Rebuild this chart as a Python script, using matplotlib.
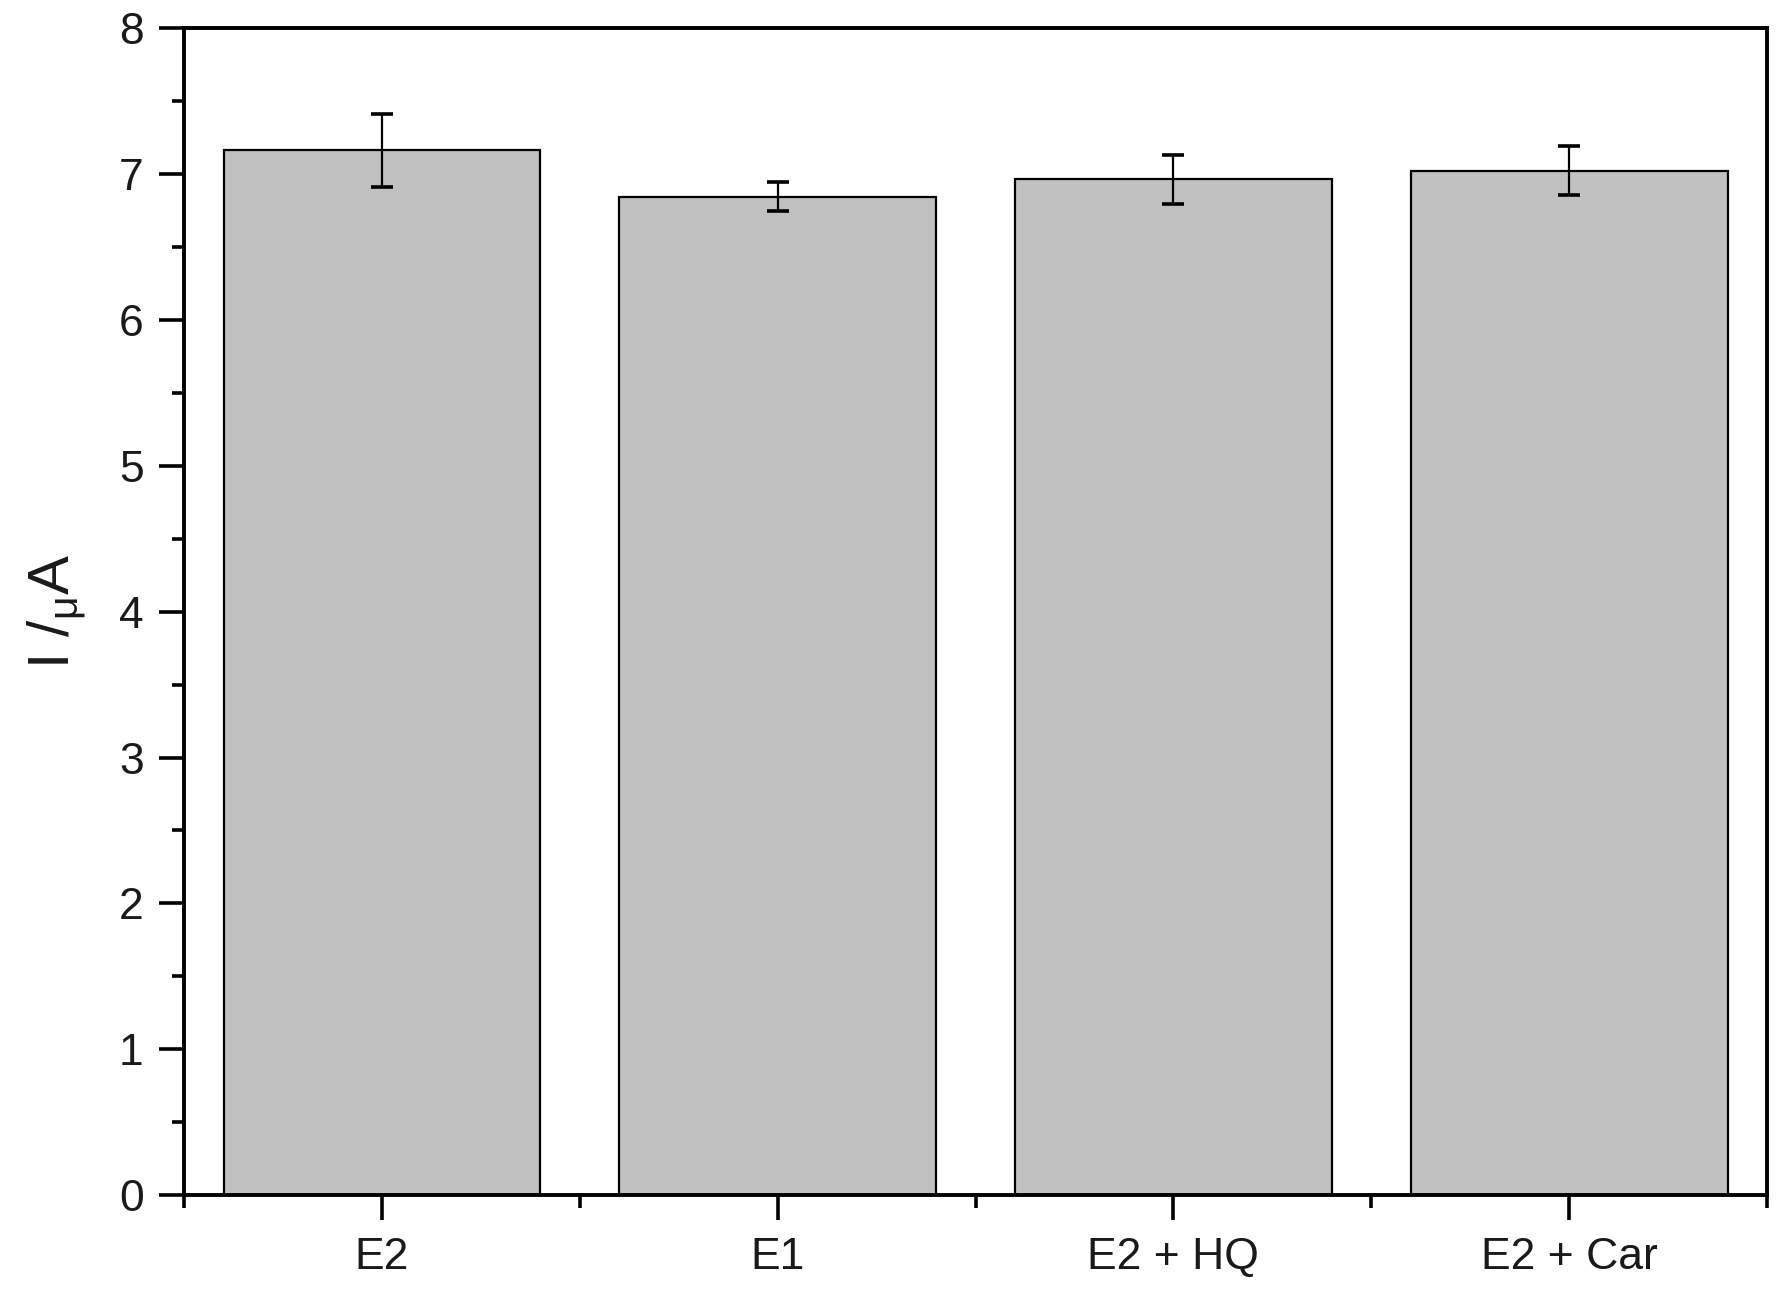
import matplotlib
matplotlib.use("Agg")
import matplotlib.pyplot as plt
import numpy as np

# bar heights and error bars
samples = ["E2", "E1", "E2 + HQ", "E2 + Car"]
current = [7.165, 6.845, 6.965, 7.025]
current_err = [0.25, 0.10, 0.17, 0.17]
y_ticks = [0, 1, 2, 3, 4, 5, 6, 7, 8]

plt.rcParams["font.family"] = ["Liberation Sans", "DejaVu Sans"]
plt.rcParams["mathtext.fontset"] = "custom"
plt.rcParams["mathtext.rm"] = "Liberation Sans"

fig = plt.figure(figsize=(17.79, 12.90), dpi=100)
ax = fig.add_axes([0.1034, 0.0736, 0.8899, 0.9044])

x = np.arange(len(samples))
ax.bar(x, current, width=0.8, color="#c0c0c0", edgecolor="black", linewidth=1.6, zorder=2)
ax.errorbar(x, current, yerr=current_err, fmt="none", ecolor="black",
            elinewidth=1.6, capsize=8, capthick=2.6, zorder=3)

ax.set_xlim(-0.5, 3.5)
ax.set_ylim(0, 8)
ax.set_xticks(x)
ax.set_xticklabels(samples)
ax.set_xticks(np.arange(-0.5, 3.6, 1.0), minor=True)
ax.set_yticks(y_ticks)
ax.set_yticks(np.arange(0.5, 8, 1.0), minor=True)

for s in ax.spines.values():
    s.set_linewidth(2.8)
ax.tick_params(which="major", direction="out", length=18, width=2.6,
               labelsize=32, labelcolor="#1a1a1a", pad=11)
ax.tick_params(which="minor", direction="out", length=9, width=2.6)
ax.tick_params(axis="x", which="major", pad=12)
ax.tick_params(top=False, right=False, which="both")

ax.set_ylabel("I /$_{\\mathregular{\u03bc}}$A", fontsize=42, color="#1a1a1a", labelpad=22)

fig.savefig("out.png", dpi=100)
